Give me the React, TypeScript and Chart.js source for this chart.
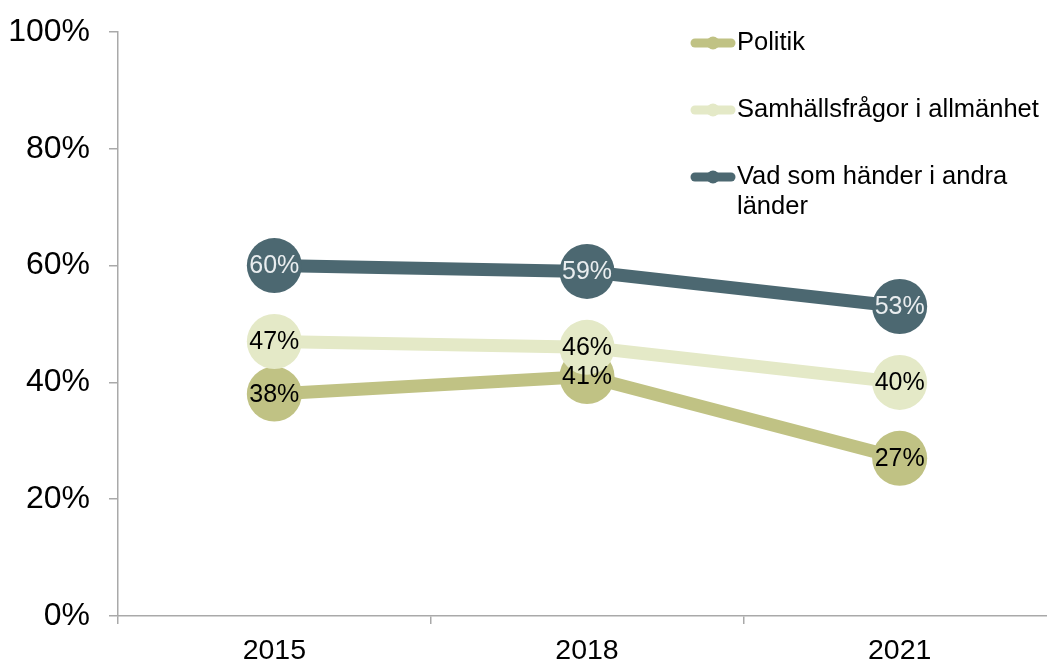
import React, { useEffect, useRef } from "react";
import { Chart, registerables } from "chart.js";

Chart.register(...registerables);

const years = ["2015", "2018", "2021"];
const seriesNames = ["Politik", "Samhällsfrågor i allmänhet", "Vad som händer i andra länder"];
const politik = [38, 41, 27];
const samhall = [47, 46, 40];
const andraLander = [60, 59, 53];
const seriesColors = ["#c0c284", "#e4e9c7", "#4c6871"];
const labelColors = ["#000000", "#000000", "#e9edef"];
const yTicks = [0, 20, 40, 60, 80, 100];

const FONT = '"Liberation Sans", Arial, sans-serif';

const dataLabelPlugin = {
  id: "dataLabels",
  afterDatasetsDraw(chart: any) {
    const ctx = chart.ctx;
    ctx.save();
    ctx.font = `25px ${FONT}`;
    ctx.textAlign = "center";
    ctx.textBaseline = "middle";
    chart.data.datasets.forEach((ds: any, i: number) => {
      const meta = chart.getDatasetMeta(i);
      meta.data.forEach((pt: any, j: number) => {
        ctx.fillStyle = labelColors[i];
        ctx.fillText(ds.data[j] + "%", pt.x, pt.y + 1);
      });
    });
    ctx.restore();
  },
};

const legendPlugin = {
  id: "customLegend",
  afterDraw(chart: any) {
    const ctx = chart.ctx;
    ctx.save();
    ctx.font = `25.5px ${FONT}`;
    ctx.textBaseline = "middle";
    ctx.textAlign = "left";
    const x0 = 691;
    const x1 = 735;
    const tx = 737;
    const maxW = 305;
    let y = 43;
    chart.data.datasets.forEach((ds: any, i: number) => {
      ctx.strokeStyle = seriesColors[i];
      ctx.lineWidth = 9;
      ctx.lineCap = "round";
      ctx.beginPath();
      ctx.moveTo(x0 + 4, y);
      ctx.lineTo(x1 - 4, y);
      ctx.stroke();
      ctx.fillStyle = seriesColors[i];
      ctx.beginPath();
      ctx.arc((x0 + x1) / 2, y, 6.5, 0, Math.PI * 2);
      ctx.fill();
      const words = String(ds.label).split(" ");
      const lines: string[] = [];
      let cur = "";
      words.forEach((w) => {
        const test = cur ? cur + " " + w : w;
        if (ctx.measureText(test).width > maxW && cur) {
          lines.push(cur);
          cur = w;
        } else cur = test;
      });
      if (cur) lines.push(cur);
      ctx.fillStyle = "#000000";
      lines.forEach((ln, k) => ctx.fillText(ln, tx, y + k * 30));
      y += 67;
    });
    ctx.restore();
  },
};

export default function App() {
  const ref = useRef<HTMLCanvasElement>(null);
  useEffect(() => {
    const valueSets = [politik, samhall, andraLander];
    const chart = new Chart(ref.current!, {
      type: "line",
      data: {
        labels: years,
        datasets: valueSets.map((vals, i) => ({
          label: seriesNames[i],
          data: vals,
          borderColor: seriesColors[i],
          backgroundColor: seriesColors[i],
          pointBackgroundColor: seriesColors[i],
          pointBorderWidth: 0,
          pointRadius: 27.5,
          pointHoverRadius: 27.5,
          borderWidth: 13,
          tension: 0,
          clip: false,
          order: 2 - i,
        })),
      },
      options: {
        animation: false,
        responsive: true,
        maintainAspectRatio: false,
        layout: { autoPadding: false, padding: { top: 32, right: 0, left: 0, bottom: 0 } },
        plugins: { legend: { display: false }, tooltip: { enabled: false } },
        scales: {
          x: {
            type: "category",
            offset: true,
            grid: {
              offset: true,
              drawOnChartArea: false,
              drawTicks: true,
              tickLength: 8,
              color: "#a9a9a9",
              lineWidth: 1.5,
            },
            border: { color: "#a9a9a9", width: 1.5 },
            ticks: {
              color: "#000000",
              font: { family: FONT, size: 28.5 },
              padding: 10,
            },
            afterFit(scale: any) {
              scale.height = 46;
              scale.paddingLeft = 0;
              scale.paddingRight = 0;
              scale.paddingTop = 0;
              scale.paddingBottom = 0;
            },
          },
          y: {
            min: 0,
            max: 100,
            afterBuildTicks(scale: any) {
              scale.ticks = yTicks.map((v) => ({ value: v }));
            },
            grid: {
              drawOnChartArea: false,
              drawTicks: true,
              tickLength: 9,
              color: "#a9a9a9",
              lineWidth: 1.5,
            },
            border: { color: "#a9a9a9", width: 1.5 },
            ticks: {
              color: "#000000",
              font: { family: FONT, size: 32 },
              padding: 19,
              callback: (v: any) => v + "%",
            },
            afterFit(scale: any) {
              scale.width = 118;
              scale.paddingLeft = 0;
              scale.paddingRight = 0;
              scale.paddingTop = 0;
              scale.paddingBottom = 0;
            },
          },
        },
      },
      plugins: [dataLabelPlugin, legendPlugin],
    });
    return () => chart.destroy();
  }, []);
  return (
    <div style={{ position: "fixed", left: 0, top: 0, width: 1047, height: 662, overflow: "hidden", background: "#fff" }}>
      <div style={{ position: "relative", width: 1056, height: 662 }}>
        <canvas ref={ref} />
      </div>
    </div>
  );
}
